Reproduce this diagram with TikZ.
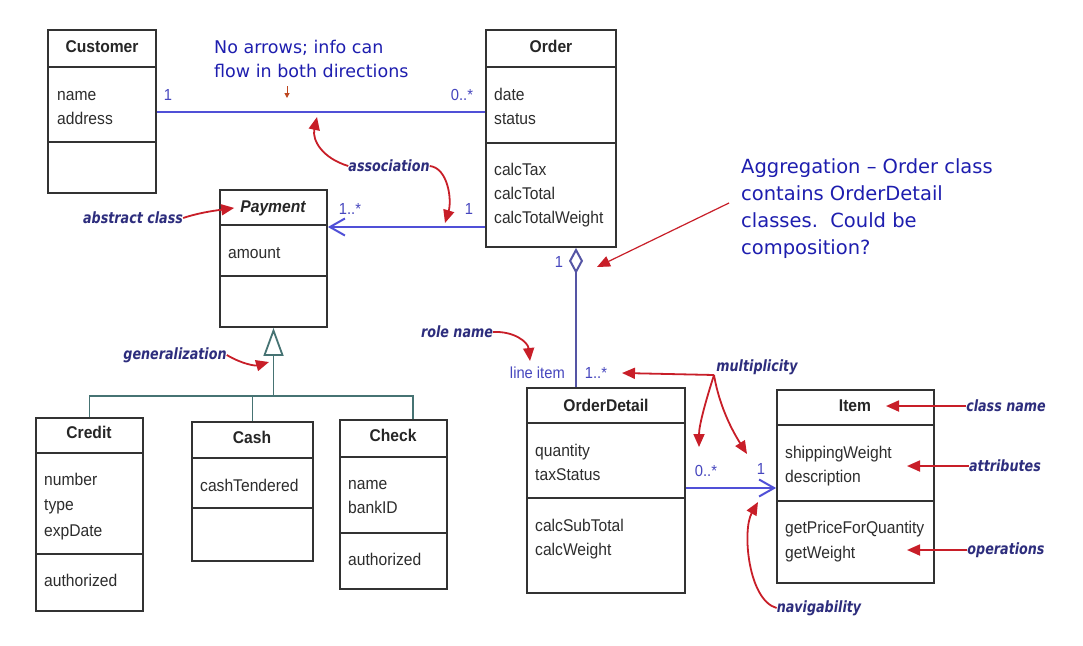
\documentclass[tikz,border=0pt]{standalone}
\usepackage{fontspec}
\setmainfont{Liberation Sans}
\newfontfamily\clsfont{Liberation Sans}[FakeStretch=0.92]
\newfontfamily\clsbold{Liberation Sans Bold}[FakeStretch=0.92]
\newfontfamily\clsbi{Liberation Sans Bold Italic}[FakeStretch=0.92]
\newfontfamily\capfont{DejaVu Sans}
\newfontfamily\annfont{DejaVu Sans Bold Oblique}[FakeStretch=0.82]
\usetikzlibrary{arrows.meta,fit}
\definecolor{boxline}{RGB}{50,50,50}
\definecolor{txt}{RGB}{45,45,45}
\definecolor{assocblue}{RGB}{80,80,215}
\definecolor{aggblue}{RGB}{85,85,165}
\definecolor{gencol}{RGB}{70,115,115}
\definecolor{annred}{RGB}{200,30,40}
\definecolor{annnavy}{RGB}{45,45,125}
\definecolor{capblue}{RGB}{30,30,175}
\definecolor{multblue}{RGB}{70,70,190}
\definecolor{brownarr}{RGB}{190,70,30}
\tikzset{
  clsbox/.style={draw=boxline, line width=1.8pt, inner sep=0pt, fill=white},
  divline/.style={draw=boxline, line width=1.8pt},
  attr/.style={font=\clsfont\fontsize{17}{20}\selectfont, text=txt, inner sep=0pt, anchor=base west},
  ctitle/.style={font=\clsbold\fontsize{17}{20}\selectfont, text=black!85, inner sep=0pt, anchor=base},
  mult/.style={font=\clsfont\fontsize{16}{20}\selectfont, text=multblue, inner sep=0pt, anchor=base},
  ann/.style={font=\annfont\fontsize{15.5}{18}\selectfont, text=annnavy, inner sep=0pt},
  capt/.style={text=capblue, inner sep=0pt, align=left, anchor=north west},
  redarr/.style={draw=annred, line width=1.8pt, -{Triangle[length=13pt,width=11pt]}},
  assoc/.style={draw=assocblue, line width=2pt},
  aggr/.style={draw=aggblue, line width=2pt},
  gen/.style={draw=gencol, line width=1.8pt},
  barb/.style={-{Straight Barb[length=15pt,width=17pt]}}
}
\newcommand\umlclass[7]{%
  \node[clsbox, fit={(#2,#3) (#4,#5)}] (#1) {};
  \draw[divline] (#1.west |- 0,#6) -- (#1.east |- 0,#6);
  \draw[divline] (#1.west |- 0,#7) -- (#1.east |- 0,#7);
}
\begin{document}
\begin{tikzpicture}[x=1pt,y=-1pt]
\fill[white] (0,0) rectangle (1083,645);
\useasboundingbox (0,0) rectangle (1083,645);

% ---------- classes ----------
\umlclass{cust}{48}{30}{156}{193}{67}{142}
\node[ctitle] (custT) at (102,52) {Customer};
\node[attr] (custA1) at (57,100) {name};
\node[attr] (custA2) at (57,124) {address};

\umlclass{order}{486}{30}{616}{247}{67}{143}
\node[ctitle] (orderT) at (551,52) {Order};
\node[attr] (orderA1) at (494,100) {date};
\node[attr] (orderA2) at (494,124) {status};
\node[attr] (orderO1) at (494,175) {calcTax};
\node[attr] (orderO2) at (494,199) {calcTotal};
\node[attr] (orderO3) at (494,223) {calcTotalWeight};

\umlclass{pay}{220}{190}{327}{327}{225}{276}
\node[ctitle, font=\clsbi\fontsize{17}{20}\selectfont] (payT) at (273,212) {Payment};
\node[attr] (payA1) at (228,258) {amount};

\umlclass{credit}{36}{418}{143}{611}{453}{554}
\node[ctitle] (creditT) at (89,438) {Credit};
\node[attr] (creditA1) at (44,485) {number};
\node[attr] (creditA2) at (44,510) {type};
\node[attr] (creditA3) at (44,536) {expDate};
\node[attr] (creditO1) at (44,586) {authorized};

\umlclass{cash}{192}{422}{313}{561}{458}{508}
\node[ctitle] (cashT) at (252,443) {Cash};
\node[attr] (cashA1) at (200,491) {cashTendered};

\umlclass{check}{340}{420}{447}{589}{457}{533}
\node[ctitle] (checkT) at (393,441) {Check};
\node[attr] (checkA1) at (348,489) {name};
\node[attr] (checkA2) at (348,513) {bankID};
\node[attr] (checkO1) at (348,565) {authorized};

\umlclass{od}{527}{388}{685}{593}{423}{498}
\node[ctitle] (odT) at (606,411) {OrderDetail};
\node[attr] (odA1) at (535,456) {quantity};
\node[attr] (odA2) at (535,480) {taxStatus};
\node[attr] (odO1) at (535,531) {calcSubTotal};
\node[attr] (odO2) at (535,555) {calcWeight};

\umlclass{item}{777}{390}{934}{583}{425}{501}
\node[ctitle] (itemT) at (855,411) {Item};
\node[attr] (itemA1) at (785,458) {shippingWeight};
\node[attr] (itemA2) at (785,482) {description};
\node[attr] (itemO1) at (785,533) {getPriceForQuantity};
\node[attr] (itemO2) at (785,558) {getWeight};

% ---------- connectors ----------
\draw[assoc] (cust.east) -- (cust.east -| order.west);
\draw[assoc, barb] (order.west |- 0,227) -- (pay.east |- 0,227);
\draw[assoc, barb] (od.east |- 0,488) -- (item.west |- 0,488);
\draw[aggr, {Diamond[open, length=26pt, width=14pt, fill=white]}-] (order.south -| 576,0) -- (od.north -| 576,0);
\draw[gen, {Triangle[open, length=28pt, width=20pt, fill=white]}-] (pay.south) -- (pay.south |- 0,396);
\draw[gen] (credit.north) -- (credit.north |- 0,396) -- (413,396) -- (check.north -| 413,0);
\draw[gen] (cash.north) -- (cash.north |- 0,396);

% ---------- multiplicities ----------
\node[mult] (m1) at (168,100) {1};
\node[mult] (m2) at (462,100) {0..*};
\node[mult] (m3) at (350,214) {1..*};
\node[mult] (m4) at (469,214) {1};
\node[mult] (m5) at (559,267) {1};
\node[mult, anchor=base east] (role) at (565,378) {line item};
\node[mult] (m6) at (596,378) {1..*};
\node[mult] (m7) at (706,476) {0..*};
\node[mult] (m8) at (761,474) {1};

% ---------- captions ----------
\node[capt, font=\capfont\fontsize{17.5}{24.5}\selectfont] (noarr) at (214,40) {No arrows; info can\\flow in both directions};
\node[capt, font=\capfont\fontsize{19.5}{27}\selectfont] (agg) at (741,158) {Aggregation – Order class\\contains OrderDetail\\classes.\ \ Could be\\composition?};

% ---------- annotations ----------
\node[ann] (assocT) at (389,166) {association};
\node[ann] (absT) at (133,218) {abstract class};
\node[ann] (genT) at (175,355) {generalization};
\node[ann] (roleT) at (457,332) {role name};
\node[ann] (multT) at (757,367) {multiplicity};
\node[ann] (cnT) at (1006,406) {class name};
\node[ann] (atT) at (1005,466) {attributes};
\node[ann] (opT) at (1006,550) {operations};
\node[ann] (navT) at (819,608) {navigability};

\coordinate (ca1) at (317,117);
\coordinate (ca2) at (445,223);
\coordinate (cg) at (269,362);
\coordinate (cr) at (530,361);
\coordinate (mo) at (714,375);
\coordinate (cm1) at (622,373);
\coordinate (cm2) at (699,447);
\coordinate (cm3) at (747,454);
\coordinate (ccn) at (886,406);
\coordinate (cat) at (907,466);
\coordinate (cop) at (907,550);
\coordinate (cnv) at (758,502);
\coordinate (cag0) at (729,203);
\coordinate (cag1) at (597,267);
\coordinate (cb0) at (287,86);
\coordinate (cb1) at (287,98);

\draw[redarr] (absT.east) .. controls +(18,-6) and +(-14,2) .. ([xshift=-6pt]payT.west);
\draw[redarr] (assocT.west) .. controls (322,158) and (312,140) .. (ca1);
\draw[redarr] (assocT.east) .. controls (448,168) and (452,200) .. (ca2);
\draw[redarr] (genT.east) .. controls (242,364) and (255,366) .. (cg);
\draw[redarr] (roleT.east) .. controls (514,331) and (528,342) .. (cr);
\draw[redarr] (mo) -- (cm1);
\draw[redarr] (mo) .. controls (706,400) and (699,425) .. (cm2);
\draw[redarr] (mo) .. controls (720,410) and (735,435) .. (cm3);
\draw[redarr] (cnT.west) -- (ccn);
\draw[redarr] (atT.west) -- (cat);
\draw[redarr] (opT.west) -- (cop);
\draw[redarr] (navT.west) .. controls (748,600) and (742,530) .. (cnv);
\draw[redarr, line width=1.2pt] (cag0) -- (cag1);
\draw[draw=brownarr, line width=1pt, -{Triangle[length=5pt,width=5pt]}] (cb0) -- (cb1);
\end{tikzpicture}
\end{document}
